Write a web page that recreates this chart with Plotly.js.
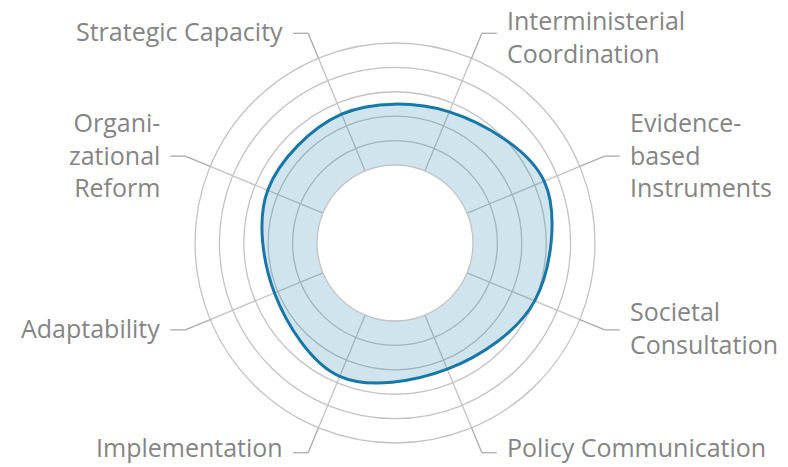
<!DOCTYPE html>
<html>
<head>
<meta charset="utf-8">
<script src="https://cdn.plot.ly/plotly-3.0.1.min.js"></script>
<style>
  html, body { margin: 0; padding: 0; background: #fff; }
  #chart { width: 788px; height: 467px; }
</style>
</head>
<body>
<div id="chart"></div>
<script>
(function () {

	'use strict';

	// categories, clockwise from the top
	const categories = [
		'Interministerial Coordination',
		'Evidence-based Instruments',
		'Societal Consultation',
		'Policy Communication',
		'Implementation',
		'Adaptability',
		'Organizational Reform',
		'Strategic Capacity',
	];

	// label text as printed (with line breaks)
	const labelText = [
		'Interministerial<br>Coordination',
		'Evidence-<br>based<br>Instruments',
		'Societal<br>Consultation',
		'Policy Communication',
		'Implementation',
		'Adaptability',
		'Organi-<br>zational<br>Reform',
		'Strategic Capacity',
	];

	// scores on the 0..5 ring scale
	const scores = [2.62, 3.42, 3.0, 2.4, 2.72, 2.15, 2.45, 2.52];

	// ring grid lines
	const ringTicks = [1, 2, 3, 4, 5];

	/**
	* page geometry (px)
	*/
	const W = 788, H = 467;
	const CX = 395, CY = 243;   // centre of the rings
	const R_OUT = 200;          // outer ring
	const R_LEAD = 227;         // leader line bend
	const TAIL = 15;            // horizontal leader piece
	const GAP = 8;              // leader -> text
	const FONT = 25;
	const EDGE = 3;             // keep label boxes off the page edge

	const gridGrey = '#c3c3c3';
	const leadGrey = '#ababab';
	const textGrey = '#858585';

	const px = x => x / W;
	const py = y => 1 - y / H;

	const trace = {
		type: 'scatterpolar',
		r: scores.concat(scores[0]),
		theta: categories.concat(categories[0]),
		mode: 'lines',
		line: { color: '#1677a8', width: 3, shape: 'spline', smoothing: 1 },
		fill: 'toself',
		fillcolor: 'rgba(21,120,170,0.2)',
		hoverinfo: 'skip',
	};

	const shapes = [];
	const annotations = [];

	// leader lines + labels, one per spoke
	categories.forEach(( cat, i ) => {
		const a = (22.5 + 45 * i) * Math.PI / 180;
		const s = Math.sin(a), c = Math.cos(a);
		const side = s > 0 ? 1 : -1;

		const x1 = CX + R_OUT * s, y1 = CY - R_OUT * c;
		const x2 = CX + R_LEAD * s, y2 = CY - R_LEAD * c;
		const x3 = x2 + side * TAIL;

		const line = { color: leadGrey, width: 1.3 };
		shapes.push({ type: 'line', xref: 'paper', yref: 'paper',
			x0: px(x1), y0: py(y1), x1: px(x2), y1: py(y2), line });
		shapes.push({ type: 'line', xref: 'paper', yref: 'paper',
			x0: px(x2), y0: py(y2), x1: px(x3), y1: py(y2), line });

		// centre the text block on the leader, but keep it inside the page
		const nLines = labelText[i].split('<br>').length;
		const half = nLines * FONT * 1.3 / 2 + 1;
		const yc = Math.min(Math.max(y2 - 2, half + EDGE), H - half - EDGE);

		annotations.push({
			xref: 'paper', yref: 'paper',
			x: px(x3 + side * GAP), y: py(yc),
			xanchor: side > 0 ? 'left' : 'right',
			yanchor: 'middle',
			align: side > 0 ? 'left' : 'right',
			text: labelText[i],
			showarrow: false,
			font: { family: 'Open Sans, sans-serif', size: FONT, color: textGrey },
		});
	});

	const layout = {
		width: W,
		height: H,
		margin: { l: 0, r: 0, t: 0, b: 0 },
		paper_bgcolor: '#fff',
		showlegend: false,
		polar: {
			domain: {
				x: [px(CX - R_OUT), px(CX + R_OUT)],
				y: [py(CY + R_OUT), py(CY - R_OUT)],
			},
			hole: 0.39,
			bgcolor: 'rgba(0,0,0,0)',
			radialaxis: {
				range: [0, 5],
				tickvals: ringTicks,
				showticklabels: false,
				ticks: '',
				showline: false,
				gridcolor: gridGrey,
				gridwidth: 1.3,
			},
			angularaxis: {
				type: 'category',
				categoryarray: categories,
				rotation: 67.5,
				direction: 'clockwise',
				showticklabels: false,
				ticks: '',
				gridcolor: gridGrey,
				gridwidth: 1.3,
				showline: true,
				linecolor: gridGrey,
				linewidth: 1.3,
			},
		},
		shapes,
		annotations,
	};

	Plotly.newPlot('chart', [trace], layout, { displayModeBar: false, staticPlot: true });

})();
</script>
</body>
</html>
